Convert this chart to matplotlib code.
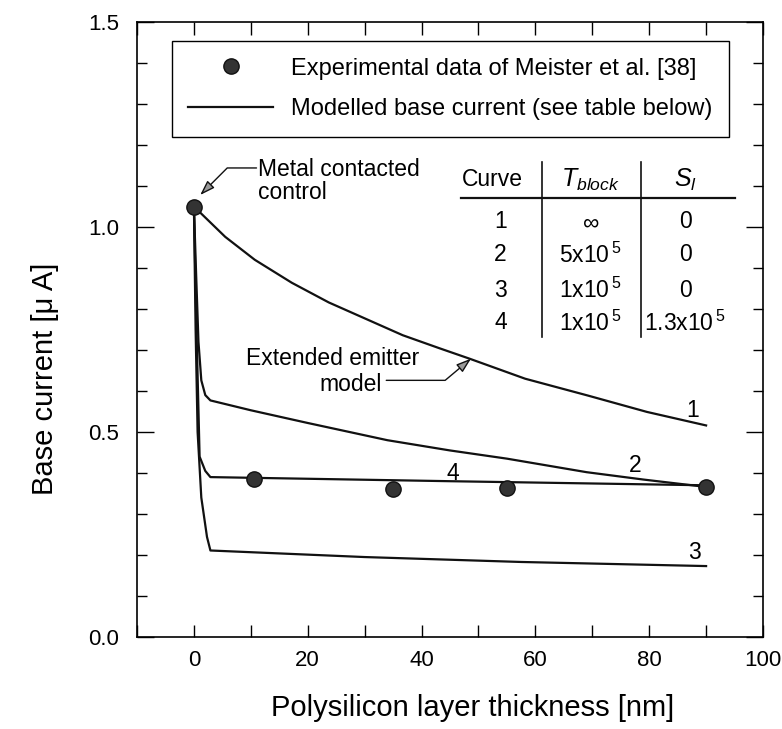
import matplotlib
matplotlib.use('Agg')
import matplotlib.pyplot as plt
from matplotlib.ticker import MultipleLocator, FormatStrFormatter

plt.rcParams['font.family'] = ['Liberation Sans', 'DejaVu Sans']
plt.rcParams['mathtext.fontset'] = 'custom'
plt.rcParams['mathtext.rm'] = 'Liberation Sans'
plt.rcParams['mathtext.it'] = 'Liberation Sans:italic'

# measured points (Meister et al.)
exp_x = [0, 10.5, 35, 55, 90]
exp_y = [1.05, 0.385, 0.360, 0.363, 0.365]

# modelled curves
c1_x = [0, 5.5, 10.7, 17.2, 23.7, 30.2, 36.7, 43.2, 48.4, 58.2, 69.2, 79.6, 90]
c1_y = [1.05, 0.976, 0.92, 0.864, 0.816, 0.776, 0.736, 0.704, 0.679, 0.63, 0.589, 0.549, 0.516]

c2_x = [0, 0.4, 0.8, 1.3, 2.0, 2.9, 10, 20, 34, 45, 55, 69, 79, 90]
c2_y = [1.05, 0.88, 0.72, 0.626, 0.59, 0.577, 0.553, 0.522, 0.48, 0.455, 0.435, 0.402, 0.384, 0.366]

c3_x = [0, 0.3, 0.65, 1.3, 2.3, 2.9, 30, 57.5, 90]
c3_y = [1.05, 0.75, 0.50, 0.34, 0.244, 0.211, 0.195, 0.183, 0.173]

c4_x = [0, 0.45, 1.0, 2.0, 2.9, 45, 90]
c4_y = [1.05, 0.75, 0.44, 0.405, 0.39, 0.38, 0.37]

curve_labels = ['1', '2', '3', '4']
t_block = [r'$\infty$', r'5x10$^{\,5}$', r'1x10$^{\,5}$', r'1x10$^{\,5}$']
s_l = ['0', '0', '0', r'1.3x10$^{\,5}$']

fig = plt.figure(figsize=(7.82, 7.29), dpi=100)
ax = fig.add_axes([137/782, 1-637/729, 626/782, 615/729])

lc = '#111111'
fs = 16.5
ax.plot(c1_x, c1_y, color=lc, lw=1.6, label='Modelled base current (see table below)')
ax.plot(c2_x, c2_y, color=lc, lw=1.6)
ax.plot(c3_x, c3_y, color=lc, lw=1.6)
ax.plot(c4_x, c4_y, color=lc, lw=1.6)
ax.plot(exp_x, exp_y, 'o', color='#333333', ms=11, mec='#111111', ls='none',
        label='Experimental data of Meister et al. [38]', zorder=5)

ax.set_xlim(-10, 100)
ax.set_ylim(0, 1.5)
ax.xaxis.set_major_locator(MultipleLocator(20))
ax.xaxis.set_minor_locator(MultipleLocator(10))
ax.yaxis.set_major_locator(MultipleLocator(0.5))
ax.yaxis.set_minor_locator(MultipleLocator(0.1))
ax.yaxis.set_major_formatter(FormatStrFormatter('%.1f'))
ax.tick_params(which='both', direction='in', top=True, right=True, width=1, labelsize=16)
ax.tick_params(axis='x', which='both', length=9, pad=9)
ax.tick_params(axis='y', which='major', length=12, pad=13)
ax.tick_params(axis='y', which='minor', length=7)
for s in ax.spines.values():
    s.set_linewidth(1.2)

ax.set_xlabel('Polysilicon layer thickness [nm]', fontsize=21)
ax.set_ylabel('Base current [μ A]', fontsize=21)
ax.xaxis.set_label_coords(0.536, -0.092)
ax.yaxis.set_label_coords(-0.125, 0.42)

# legend
h, l = ax.get_legend_handles_labels()
leg = ax.legend([h[1], h[0]], [l[1], l[0]], loc='upper left',
                bbox_to_anchor=(0.0553, 0.969),
                fancybox=False, edgecolor='black', framealpha=1, fontsize=17,
                handlelength=3.6, handletextpad=0.75, labelspacing=0.8,
                borderpad=0.7, borderaxespad=0)
leg.get_frame().set_linewidth(1.0)

# curve numbers
ax.text(87.7, 0.553, '1', fontsize=fs, ha='center', va='center')
ax.text(77.6, 0.419, '2', fontsize=fs, ha='center', va='center')
ax.text(88.0, 0.207, '3', fontsize=fs, ha='center', va='center')
ax.text(45.5, 0.398, '4', fontsize=fs, ha='center', va='center')

# annotations
arrow = dict(arrowstyle='-|>,head_length=0.9,head_width=0.3', fc='#999999', ec=lc,
             lw=1.0, shrinkA=0, shrinkB=0)
ax.text(11.2, 1.141, 'Metal contacted', fontsize=fs, ha='left', va='center')
ax.text(11.2, 1.085, 'control', fontsize=fs, ha='left', va='center')
ax.annotate('', xy=(1.1, 1.078), xytext=(11, 1.144),
            arrowprops=dict(connectionstyle='angle,angleA=0,angleB=45,rad=0', **arrow))
ax.text(24.4, 0.679, 'Extended emitter', fontsize=fs, ha='center', va='center')
ax.text(27.5, 0.617, 'model', fontsize=fs, ha='center', va='center')
ax.annotate('', xy=(48.7, 0.679), xytext=(33.8, 0.626),
            arrowprops=dict(connectionstyle='angle,angleA=0,angleB=40,rad=0', **arrow))

# parameter table
col_x = [53.9, 69.7, 86.3]
head_y = 1.115
row_y = [1.013, 0.932, 0.846, 0.766]
ax.text(52.4, head_y, 'Curve', fontsize=fs, ha='center', va='center')
ax.text(col_x[1], head_y, r'$\mathit{T}_{\mathit{block}}$', fontsize=18, ha='center', va='center')
ax.text(col_x[2], head_y, r'$\mathit{S}_{\mathit{l}}$', fontsize=18, ha='center', va='center')
ax.plot([46.9, 95.1], [1.070, 1.070], color=lc, lw=1.6)
ax.plot([61.1, 61.1], [1.159, 0.732], color=lc, lw=1.2)
ax.plot([78.6, 78.6], [1.159, 0.732], color=lc, lw=1.2)
for i in range(4):
    ax.text(col_x[0], row_y[i], curve_labels[i], fontsize=fs, ha='center', va='center')
    ax.text(col_x[1], row_y[i], t_block[i], fontsize=fs, ha='center', va='center')
    ax.text(col_x[2], row_y[i], s_l[i], fontsize=fs, ha='center', va='center')

fig.savefig('out.png', dpi=100)
